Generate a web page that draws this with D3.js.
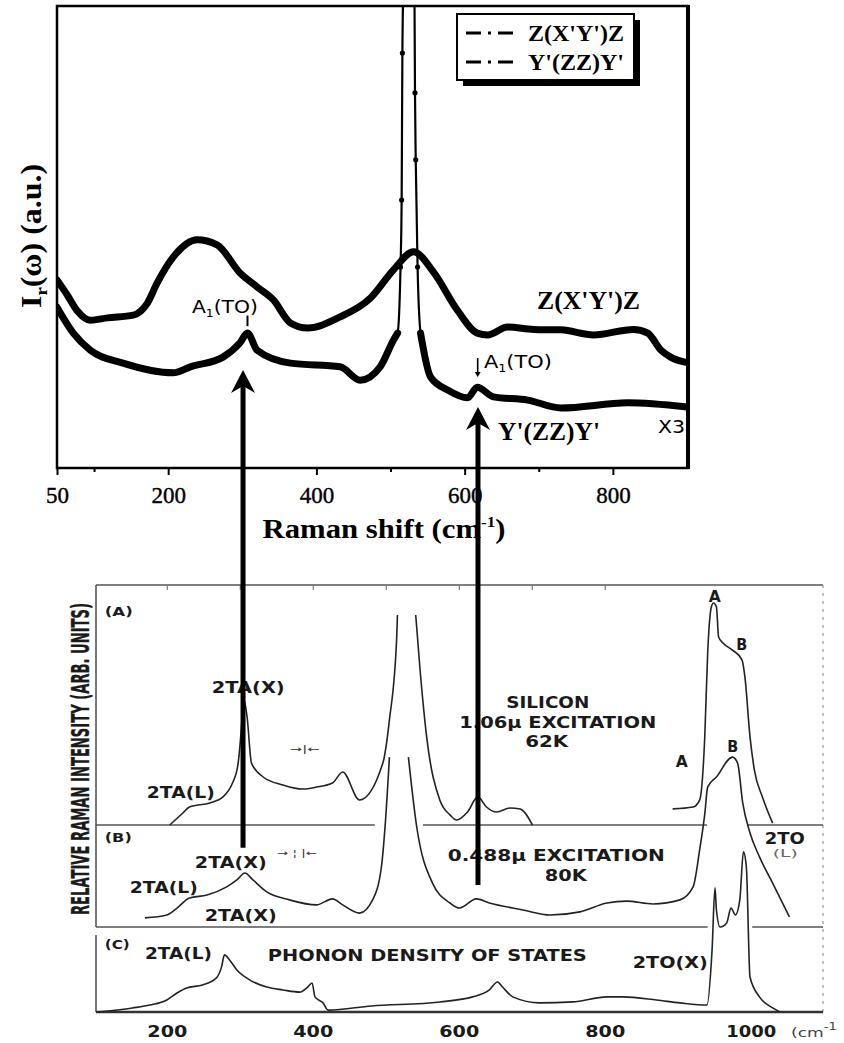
<!DOCTYPE html>
<html>
<head>
<meta charset="utf-8">
<script src="https://cdn.jsdelivr.net/npm/d3@7"></script>
<style>
  html, body { margin: 0; padding: 0; background: #fff; }
  svg { display: block; }
</style>
</head>
<body>
<div id="chart"></div>
<script>
// ---- Top panel: polarized Raman spectra (Raman shift in cm-1, intensity in a.u.)
const upperShift = [50, 64, 77, 95, 118, 153, 172, 185, 207, 239, 266, 297, 320, 342, 365, 388, 432, 473,
                    504, 531, 558, 590, 617, 631, 658, 693, 730, 774, 828, 847, 865, 878, 900];
const upperInt   = [4.07, 3.74, 3.41, 3.20, 3.25, 3.31, 3.57, 4.00, 4.57, 4.94, 4.83, 4.22, 3.92, 3.64, 3.14, 3.03, 3.27, 3.68,
                    4.29, 4.68, 4.24, 3.42, 2.92, 2.88, 3.05, 3.00, 2.99, 2.88, 3.00, 2.92, 2.55, 2.40, 2.28];

const lowerShift = [50, 72, 95, 139, 207, 230, 274, 297, 307, 320, 365, 432, 459, 486, 504, 509.5, 513.5, 515, 516,
                    518, 525, 532, 533, 534, 536.5, 540.5, 554, 577, 604, 617, 639, 685, 730, 820, 900];
const lowerInt   = [3.48, 2.92, 2.55, 2.27, 2.06, 2.19, 2.40, 2.71, 2.92, 2.55, 2.27, 2.19, 1.90, 2.19, 2.77, 2.92, 4.35, 5.80, 8.98,
                    11, 14, 11, 8.12, 6.67, 4.35, 2.92, 1.97, 1.69, 1.52, 1.75, 1.54, 1.47, 1.30, 1.41, 1.32];

const legendNames = ["Z(X'Y')Z", "Y'(ZZ)Y'"];
const topMajor = [50, 200, 400, 600, 800];
const topMinor = [100, 300, 500, 700];

// ---- Bottom panel: silicon second-order spectra (A), (B) and phonon DOS (C)
const aShift = [204, 222, 231, 259, 277, 290, 297, 303, 305, 310, 316, 332, 359, 386, 405, 427, 441, 464, 496, 505,
                515, 516, 528, 541, 547, 556, 574, 588, 597, 612, 626, 638, 652, 670, 684, 701, 800, 893, 921, 930,
                937, 941, 946, 949, 953, 956, 962, 975, 988, 992, 999, 1005, 1016, 1030];
const aInt   = [0, 5.0, 7.5, 9.2, 11.7, 17.5, 24.2, 43.8, 52.9, 45.0, 25.8, 20.0, 16.7, 15.0, 15.8, 17.5, 22.1, 10.4, 25.8, 43.8,
                78.3, 87.5, null, 87.5, 64.6, 36.7, 10.4, 4.2, 2.1, 5.4, 11.7, 7.5, 5.4, 7.1, 6.7, 0, null, 6.7, 7.5, 10.4,
                36.7, 71.7, 90.8, 92.5, 90.8, 78.3, 75.8, 72.9, 68.8, 61.7, 36.7, 22.9, 11.7, 0.8];

const bShift = [170, 200, 214, 231, 255, 282, 296, 307, 318, 337, 368, 405, 427, 441, 464, 482, 494, 499, 505, 518,
                531, 542, 564, 588, 601, 624, 642, 688, 725, 766, 803, 830, 866, 903, 921, 930, 937, 941, 953, 975,
                982, 989, 999, 1012, 1030, 1053];
const bInt   = [3.8, 5.0, 7.9, 12.1, 13.3, 16.7, 19.6, 22.5, 19.6, 14.6, 11.3, 9.2, 11.7, 9.2, 5.8, 11.3, 25.0, 41.7, 70.8, null,
                70.8, 42.5, 18.3, 10.0, 7.9, 11.7, 10.0, 7.1, 5.0, 6.3, 10.0, 10.8, 9.6, 11.3, 16.7, 32.1, 47, 58.3, 62.5, 70.8,
                68.3, 51.7, 39.2, 29.2, 18.3, 4.2];

const cShift = [104, 153, 177, 200, 214, 227, 249, 268, 275, 279, 286, 296, 314, 337, 359, 382, 393, 399, 403, 414,
                421, 480, 574, 619, 642, 653, 660, 674, 711, 756, 803, 825, 871, 903, 940, 947, 951, 953, 958, 967,
                973, 979, 985, 990, 994, 999, 1012, 1030, 1040];
const cInt   = [0, 1.7, 2.9, 5.0, 7.9, 10.0, 11.3, 14.2, 18.8, 23.8, 21.7, 17.5, 13.3, 10.4, 9.2, 8.3, 10.4, 12.1, 6.3, 3.8,
                0.8, 2.5, 4.2, 6.3, 9.2, 12.5, 10.4, 6.3, 3.8, 4.2, 6.3, 6.3, 5.0, 3.8, 2.9, 25.8, 51.7, 42.5, 35.4, 37.1,
                43.3, 40.4, 46.7, 66.7, 60.4, 14.6, 6.3, 1.7, 0];

const botTicks = [200, 400, 600, 800, 1000];
const botFrameTicks = [200, 300, 400, 500, 600, 700, 800];

// arrows linking A1(TO) modes to the 2TA(X) features below
const arrowShift = [301, 618];
const arrowTip   = [2.12, 1.32];   // top panel intensity
const arrowTail  = [33, 17.5];     // panel (B) intensity

const zip = (xs, ys) => xs.map((x, i) => ({ x: x, v: ys[i] }));

const serif  = "'Liberation Serif','Times New Roman',serif";
const narrow = "'Liberation Sans Narrow','Arial Narrow','DejaVu Sans Condensed',sans-serif";
const wide   = "'DejaVu Sans','Verdana',sans-serif";

const svg = d3.select("#chart").append("svg")
    .attr("width", 844)
    .attr("height", 1043)
    .style("background", "#fff");

// Scales.
const xTop = d3.scaleLinear().domain([50, 900]).range([57, 687]);
const yTop = d3.scaleLinear().domain([0, 10]).range([468, 6]);
const xBot = d3.scaleLinear().domain([103, 1099]).range([96, 823]);
const yA = d3.scaleLinear().domain([0, 100]).range([825, 585]);
const yB = d3.scaleLinear().domain([0, 100]).range([927, 687]);
const yC = d3.scaleLinear().domain([0, 100]).range([1012, 772]);

// Text helper: fits a string to a measured width.
function addText(g, o) {
  const t = g.append("text")
      .attr("x", o.x).attr("y", o.y)
      .attr("font-family", o.family || serif)
      .attr("font-size", o.size)
      .attr("font-weight", o.weight || "normal")
      .attr("fill", o.fill || "#000")
      .attr("text-anchor", o.anchor || "start");
  if (o.transform) t.attr("transform", o.transform);
  (o.parts || [[o.text, 0]]).forEach(p => {
    const s = t.append("tspan").text(p[0]);
    if (p[1]) s.attr("dy", p[1]);
    if (p[2]) s.attr("font-size", p[2]);
  });
  if (o.len) t.attr("textLength", o.len).attr("lengthAdjust", "spacingAndGlyphs");
  return t;
}

// ================= TOP PANEL =================
const topG = svg.append("g");
svg.append("clipPath").attr("id", "clipTop")
  .append("rect").attr("x", 57).attr("y", 6).attr("width", 631).attr("height", 462);

const lineTop = d3.line()
    .x(d => xTop(d.x))
    .y(d => yTop(d.v))
    .curve(d3.curveMonotoneX);

const curves = topG.append("g").attr("clip-path", "url(#clipTop)");
const upper = zip(upperShift, upperInt);
const lower = zip(lowerShift, lowerInt);

// thin line through the sharp silicon peak, thick trace elsewhere
curves.append("path").datum(lower)
    .attr("d", lineTop).attr("fill", "none")
    .attr("stroke", "#000").attr("stroke-width", 2.2);
curves.selectAll("circle.pk")
  .data(lower.filter(d => d.x > 510 && d.x < 540))
  .enter().append("circle")
    .attr("cx", d => xTop(d.x)).attr("cy", d => yTop(d.v))
    .attr("r", 2.6).attr("fill", "#000");
curves.append("path").datum(lower)
    .attr("d", lineTop.defined(d => d.x < 510 || d.x > 540)).attr("fill", "none")
    .attr("stroke", "#000").attr("stroke-width", 7)
    .attr("stroke-linejoin", "round").attr("stroke-linecap", "round");
lineTop.defined(() => true);
curves.append("path").datum(upper)
    .attr("d", lineTop).attr("fill", "none")
    .attr("stroke", "#000").attr("stroke-width", 7)
    .attr("stroke-linejoin", "round").attr("stroke-linecap", "round");

// frame
topG.append("rect").attr("x", 57).attr("y", 6).attr("width", 631).attr("height", 462)
    .attr("fill", "none").attr("stroke", "#000").attr("stroke-width", 2.5);
topG.append("line").attr("x1", 688).attr("x2", 688).attr("y1", 5).attr("y2", 469)
    .attr("stroke", "#000").attr("stroke-width", 4);

// axes
const axMajor = topG.append("g").attr("transform", `translate(0,${yTop(0)})`)
  .call(d3.axisBottom(xTop).tickValues(topMajor).tickSize(7).tickPadding(12).tickFormat(d3.format("d")));
const axMinor = topG.append("g").attr("transform", `translate(0,${yTop(0)})`)
  .call(d3.axisBottom(xTop).tickValues(topMinor).tickSize(4).tickFormat(""));
[axMajor, axMinor].forEach(a => {
  a.select(".domain").remove();
  a.selectAll("line").attr("stroke", "#000").attr("stroke-width", 2);
});
axMajor.selectAll("text").attr("font-family", serif).attr("font-size", 23).attr("fill", "#000")
    .attr("stroke", "#000").attr("stroke-width", 0.4);

addText(topG, { x: 384, y: 538, size: 27, weight: "bold", anchor: "middle", len: 243,
  parts: [["Raman shift (cm", 0], ["-1", -11, 15], [")", 11]] });
addText(topG, { x: 0, y: 0, size: 29, weight: "bold", anchor: "middle", len: 144,
  transform: "translate(41,236) rotate(-90)",
  parts: [["I", 0], ["r", 6, 17], ["(ω) (a.u.)", -6]] });

// legend
topG.append("rect").attr("x", 463).attr("y", 20).attr("width", 177).attr("height", 66).attr("fill", "#000");
topG.append("rect").attr("x", 457).attr("y", 14).attr("width", 177).attr("height", 66)
    .attr("fill", "#fff").attr("stroke", "#000").attr("stroke-width", 2);
legendNames.forEach((name, i) => {
  const cy = 33 + i * 29;
  topG.append("line").attr("x1", 466).attr("x2", 513).attr("y1", cy).attr("y2", cy)
      .attr("stroke", "#000").attr("stroke-width", 3.2)
      .attr("stroke-dasharray", "15 7 3 7 15 100");
  addText(topG, { x: 528, y: cy + 8, text: name, size: 24, weight: "bold", len: 96 });
});

// annotations
addText(topG, { x: xTop(232), y: yTop(3.35), size: 18, family: narrow, len: 66,
  parts: [["A", 0], ["1", 4, 11], ["(TO)", -4]] });
addText(topG, { x: xTop(626), y: yTop(2.16), size: 18, family: narrow, len: 68,
  parts: [["A", 0], ["1", 4, 11], ["(TO)", -4]] });
topG.append("line").attr("x1", xTop(307)).attr("x2", xTop(307)).attr("y1", yTop(3.30)).attr("y2", yTop(3.07))
    .attr("stroke", "#000").attr("stroke-width", 2);
topG.append("line").attr("x1", xTop(617.6)).attr("x2", xTop(617.6)).attr("y1", yTop(2.38)).attr("y2", yTop(2.05))
    .attr("stroke", "#000").attr("stroke-width", 1.6);
topG.append("path")
    .attr("d", `M${xTop(617.6) - 3},${yTop(2.08)} L${xTop(617.6)},${yTop(1.97)} L${xTop(617.6) + 3},${yTop(2.08)} Z`)
    .attr("fill", "#000");
addText(topG, { x: xTop(697.6), y: yTop(3.44), text: "Z(X'Y')Z", size: 25, weight: "bold", len: 103 });
addText(topG, { x: xTop(645), y: yTop(0.61), text: "Y'(ZZ)Y'", size: 25, weight: "bold", len: 102 });
addText(topG, { x: xTop(860.8), y: yTop(0.76), text: "X3", size: 18, family: narrow, len: 27 });

// ================= BOTTOM PANEL =================
const botG = svg.append("g");
const frameCol = "#555", curveCol = "#222", inkCol = "#1a1a1a";

// frame and baselines
botG.append("line").attr("x1", 96).attr("x2", 823).attr("y1", 585).attr("y2", 585)
    .attr("stroke", frameCol).attr("stroke-width", 1.6);
botG.append("line").attr("x1", 96).attr("x2", 96).attr("y1", 585).attr("y2", 927)
    .attr("stroke", frameCol).attr("stroke-width", 1.6);
botG.append("line").attr("x1", 96).attr("x2", 96).attr("y1", 935).attr("y2", 1012)
    .attr("stroke", frameCol).attr("stroke-width", 1.6);
botG.append("line").attr("x1", 823).attr("x2", 823).attr("y1", 585).attr("y2", 1012)
    .attr("stroke", "#999").attr("stroke-width", 1.2).attr("stroke-dasharray", "3 5");

function baseline(y, segs, w, col) {
  segs.forEach(s => botG.append("line")
      .attr("x1", xBot(s[0])).attr("x2", xBot(s[1])).attr("y1", y).attr("y2", y)
      .attr("stroke", col).attr("stroke-width", w));
}
baseline(yA(0), [[103, 485], [551, 940], [996, 1099]], 1.4, frameCol);
baseline(yB(0), [[103, 941], [1002, 1099]], 1.4, frameCol);
baseline(yC(0), [[103, 1099]], 2.4, "#333");

const frameAx = botG.append("g").attr("transform", "translate(0,585)")
  .call(d3.axisBottom(xBot).tickValues(botFrameTicks).tickSize(5).tickFormat(""));
frameAx.select(".domain").remove();
frameAx.selectAll("line").attr("stroke", "#777").attr("stroke-width", 1.2);

const bAx = botG.append("g").attr("transform", "translate(0,1012)")
  .call(d3.axisBottom(xBot).tickValues(botTicks).tickSize(0).tickPadding(14).tickFormat(d3.format("d")));
bAx.select(".domain").remove();
bAx.selectAll("text").attr("font-family", wide).attr("font-size", 16).attr("font-weight", "bold")
    .attr("fill", inkCol)
    .attr("textLength", d => d === 1000 ? 50 : 40).attr("lengthAdjust", "spacingAndGlyphs");
addText(botG, { x: 791, y: 1037, size: 13, family: wide, fill: "#444", len: 46,
  parts: [["(cm", 0], ["-1", -7, 10]] });

// spectra
function spectrum(xs, ys, yScale) {
  const line = d3.line()
      .defined(d => d.v != null)
      .x(d => xBot(d.x))
      .y(d => yScale(d.v))
      .curve(d3.curveMonotoneX);
  botG.append("path").datum(zip(xs, ys))
      .attr("d", line).attr("fill", "none")
      .attr("stroke", curveCol).attr("stroke-width", 1.6)
      .attr("stroke-linejoin", "round");
}
spectrum(aShift, aInt, yA);
spectrum(bShift, bInt, yB);
spectrum(cShift, cInt, yC);

// labels
const notes = [
  { t: "(A)", x: 115, y: yA(87.1), s: 12, len: 28 },
  { t: "2TA(X)", x: 261.6, y: yA(55), s: 16, len: 73 },
  { t: "2TA(L)", x: 172.6, y: yA(11.25), s: 16, len: 68 },
  { t: "SILICON", x: 722, y: yA(48.75), s: 16, len: 83, a: "middle" },
  { t: "1.06μ EXCITATION", x: 735.6, y: yA(40.4), s: 16, len: 197, a: "middle" },
  { t: "62K", x: 720.5, y: yA(32.5), s: 16, len: 43, a: "middle" },
  { t: "A", x: 950.7, y: yA(92.9), s: 15, len: 12, a: "middle" },
  { t: "B", x: 987.7, y: yA(72.9), s: 15, len: 11, a: "middle" },
  { t: "A", x: 905.5, y: yA(24.2), s: 15, len: 12, a: "middle" },
  { t: "B", x: 975.3, y: yA(30.4), s: 15, len: 11, a: "middle" },
  { t: "(B)", x: 115, y: yB(35.4), s: 12, len: 27 },
  { t: "2TA(X)", x: 238.4, y: yB(24.6), s: 16, len: 72 },
  { t: "2TA(L)", x: 149.3, y: yB(14.2), s: 16, len: 68 },
  { t: "2TA(X)", x: 252, y: yB(2.5), s: 16, len: 72 },
  { t: "0.488μ EXCITATION", x: 733.6, y: yB(27.5), s: 16, len: 217, a: "middle" },
  { t: "80K", x: 746.6, y: yB(19.2), s: 16, len: 42, a: "middle" },
  { t: "2TO", x: 1046.6, y: yB(34.6), s: 15, len: 40, a: "middle" },
  { t: "(L)", x: 1047.3, y: yB(29.2), s: 11, len: 25, a: "middle", f: "#666", w: "normal" },
  { t: "(C)", x: 115, y: yC(26.25), s: 12, len: 25 },
  { t: "2TA(L)", x: 170, y: yC(22.1), s: 16, len: 67 },
  { t: "PHONON DENSITY OF STATES", x: 338.4, y: yC(21.25), s: 16, len: 319 },
  { t: "2TO(X)", x: 838.4, y: yC(18.3), s: 15, len: 75 }
];
notes.forEach(n => addText(botG, {
  x: xBot(n.x), y: n.y, text: n.t, size: n.s, family: wide, weight: n.w || "bold",
  anchor: n.a || "start", len: n.len, fill: n.f || inkCol
}));
// spectral resolution marks
addText(botG, { x: xBot(368.5), y: yA(30.4), text: "→|←", size: 9, family: wide, len: 30, fill: "#333" });
addText(botG, { x: xBot(351), y: yB(29.6), text: "→ ¦ |←", size: 9, family: wide, len: 40, fill: "#333" });

botG.append("text")
    .attr("transform", "translate(89,759) rotate(-90)")
    .attr("text-anchor", "middle")
    .attr("font-family", narrow).attr("font-weight", "bold").attr("font-size", 24)
    .attr("fill", inkCol).attr("stroke", inkCol).attr("stroke-width", 0.3)
    .attr("textLength", 312).attr("lengthAdjust", "spacingAndGlyphs")
    .text("RELATIVE RAMAN INTENSITY (ARB. UNITS)");

// ================= ARROWS =================
const arrows = svg.append("g");
arrowShift.forEach((s, i) => {
  const x = xTop(s), tip = yTop(arrowTip[i]);
  arrows.append("line").attr("x1", x).attr("x2", x).attr("y1", tip + 14).attr("y2", yB(arrowTail[i]))
      .attr("stroke", "#000").attr("stroke-width", 5);
  arrows.append("path")
      .attr("d", `M${x},${tip} L${x + 12},${tip + 23} L${x},${tip + 16} L${x - 12},${tip + 23} Z`)
      .attr("fill", "#000");
});
</script>
</body>
</html>
